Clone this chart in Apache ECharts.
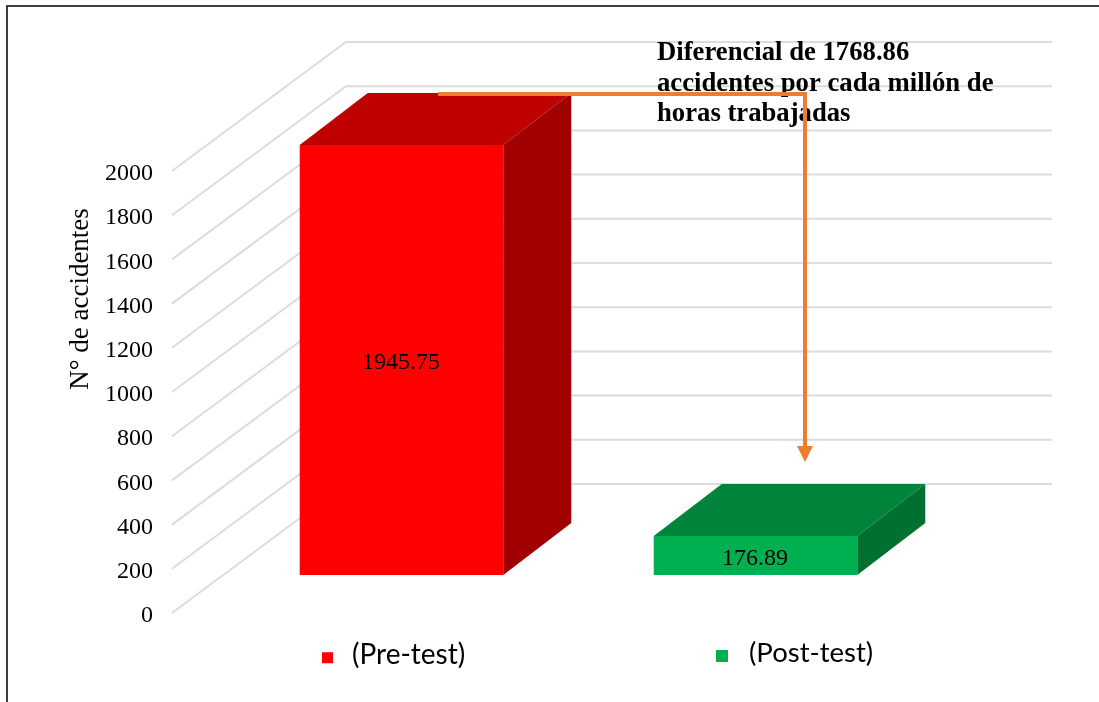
<!DOCTYPE html>
<html>
<head>
<meta charset="utf-8">
<style>
  html, body { margin: 0; padding: 0; background: #fff; }
  #main { width: 1099px; height: 702px; }
</style>
<script src="https://cdn.jsdelivr.net/npm/echarts@6/dist/echarts.min.js"></script>
</head>
<body>
<div id="main"></div>
<script>
var categorias = ['(Pre-test)', '(Post-test)'];
var valoresPre = [1945.75];
var valoresPost = [176.89];
var ticks = [0, 200, 400, 600, 800, 1000, 1200, 1400, 1600, 1800, 2000];

var serif = '"Liberation Serif", "Times New Roman", serif';

// profundidad del piso y de la barra (px)
var pisoX = 174, pisoY = -129;
var barraFrenteX = 52.5, barraFrenteY = -38;
var barraX = 68, barraY = -52;

// cuadrado de la leyenda, mas abajo que el centro del texto
var iconoLeyenda = 'path://M0 0L0 0M0 6H12V18H0Z';

function renderLinea(params, api) {
    var p = api.coord([0, api.value(0)]);
    var x0 = params.coordSys.x;
    var x1 = x0 + params.coordSys.width - 2;
    return {
        type: 'polyline',
        silent: true,
        shape: { points: [[x0, p[1]], [x0 + pisoX, p[1] + pisoY], [x1 + pisoX, p[1] + pisoY]] },
        style: { fill: null, stroke: '#DCDCDC', lineWidth: 2 }
    };
}

function renderBarra(indice, colores) {
    return function (params, api) {
        var base = api.coord([indice, 0]);
        var tope = api.coord([indice, api.value(0)]);
        var ancho = api.size([1, 0])[0] * 0.575;
        var x0 = base[0] - ancho / 2 + barraFrenteX;
        var x1 = x0 + ancho;
        var yb = base[1] + barraFrenteY;
        var yt = tope[1] + barraFrenteY;
        return {
            type: 'group',
            children: [
                {
                    type: 'polygon',
                    shape: { points: [[x0, yt], [x1, yt], [x1 + barraX, yt + barraY], [x0 + barraX, yt + barraY]] },
                    style: { fill: colores[1] }
                },
                {
                    type: 'polygon',
                    shape: { points: [[x1, yt], [x1 + barraX, yt + barraY], [x1 + barraX, yb + barraY], [x1, yb]] },
                    style: { fill: colores[2] }
                },
                {
                    type: 'rect',
                    shape: { x: x0, y: yt, width: ancho, height: yb - yt },
                    style: { fill: colores[0] }
                },
                {
                    type: 'text',
                    style: {
                        x: (x0 + x1) / 2 - 0.5,
                        y: (yt + yb) / 2 + 3,
                        text: api.value(0).toFixed(2),
                        align: 'center',
                        verticalAlign: 'middle',
                        fill: '#000',
                        font: '24px ' + serif
                    }
                }
            ]
        };
    };
}

var chart = echarts.init(document.getElementById('main'), null, { renderer: 'canvas' });

chart.setOption({
    animation: false,
    grid: { left: 172, top: 171, width: 708, height: 442 },
    xAxis: {
        type: 'category',
        data: categorias,
        axisLine: { show: false },
        axisTick: { show: false },
        axisLabel: { show: false }
    },
    yAxis: {
        type: 'value',
        min: 0,
        max: 2000,
        interval: 200,
        axisLine: { show: false },
        axisTick: { show: false },
        splitLine: { show: false },
        axisLabel: {
            margin: 19,
            color: '#000',
            fontFamily: serif,
            fontSize: 24,
            verticalAlign: 'top',
            lineHeight: 6,
            formatter: function (v) { return String(v); }
        }
    },
    legend: [
        {
            data: [categorias[0]],
            left: 322,
            top: 641,
            padding: 0,
            icon: iconoLeyenda,
            itemWidth: 11,
            itemHeight: 18,
            itemGap: 0,
            selectedMode: false,
            textStyle: { color: '#000', fontFamily: 'Lato', fontSize: 28, padding: [0, 0, 12, 14] }
        },
        {
            data: [categorias[1]],
            left: 716,
            top: 639,
            padding: 0,
            icon: iconoLeyenda,
            itemWidth: 12,
            itemHeight: 18,
            itemGap: 0,
            selectedMode: false,
            textStyle: { color: '#000', fontFamily: 'Lato', fontSize: 27.5, padding: [0, 0, 16, 16] }
        }
    ],
    series: [
        {
            name: 'lineas',
            type: 'custom',
            silent: true,
            z: 1,
            renderItem: renderLinea,
            data: ticks.map(function (t) { return [t]; }),
            encode: { y: 0 }
        },
        {
            name: categorias[0],
            type: 'custom',
            z: 2,
            itemStyle: { color: '#FF0000' },
            renderItem: renderBarra(0, ['#FF0000', '#BF0000', '#A00000']),
            data: valoresPre.map(function (v) { return [v]; }),
            encode: { y: 0 }
        },
        {
            name: categorias[1],
            type: 'custom',
            z: 2,
            itemStyle: { color: '#00B050' },
            renderItem: renderBarra(1, ['#00B050', '#00843C', '#007030']),
            data: valoresPost.map(function (v) { return [v]; }),
            encode: { y: 0 }
        }
    ],
    graphic: [
        {
            type: 'rect',
            silent: true,
            z: 0,
            shape: { x: 7, y: 6, width: 1200, height: 800 },
            style: { fill: null, stroke: '#000', lineWidth: 1.5 }
        },
        {
            type: 'text',
            z: 10,
            rotation: Math.PI / 2,
            x: 81,
            y: 299,
            style: {
                text: 'N° de accidentes',
                align: 'center',
                verticalAlign: 'middle',
                fill: '#000',
                font: '27px ' + serif
            }
        },
        {
            type: 'text',
            z: 10,
            x: 657,
            y: 38,
            style: {
                text: 'Diferencial de 1768.86\naccidentes por cada millón de\nhoras trabajadas',
                fill: '#000',
                font: 'bold 26.7px ' + serif,
                lineHeight: 30.5
            }
        },
        {
            type: 'polyline',
            z: 11,
            shape: { points: [[438, 94], [805, 94], [805, 448]] },
            style: { fill: null, stroke: '#ED7D31', lineWidth: 4 }
        },
        {
            type: 'polygon',
            z: 11,
            shape: { points: [[797, 446], [813, 446], [805, 462]] },
            style: { fill: '#ED7D31' }
        }
    ]
});

window.addEventListener('resize', chart.resize);
</script>
</body>
</html>
